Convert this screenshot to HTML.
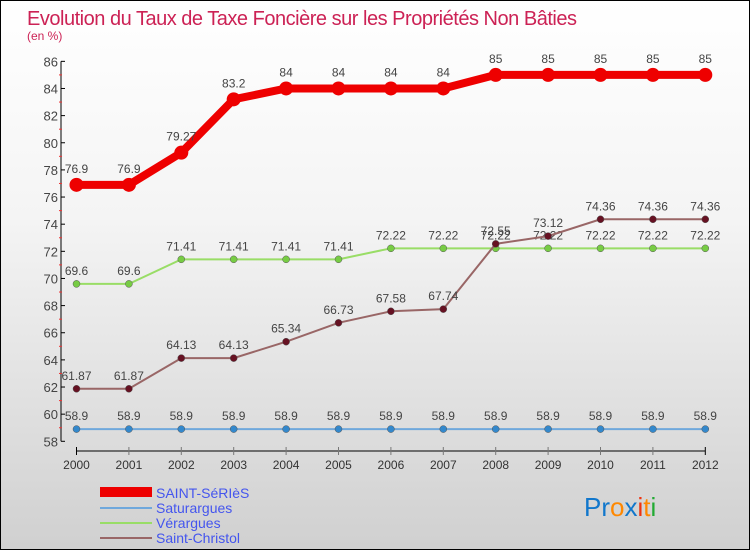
<!DOCTYPE html>
<html><head><meta charset="utf-8"><style>
body{margin:0}
#c{width:748px;height:548px;border:1px solid #000;background:linear-gradient(#fff 0%,#f4f4f4 40%,#d0d0d0 100%);position:relative;font-family:"Liberation Sans",sans-serif;overflow:hidden}
</style></head><body>
<div id="c">
<svg width="748" height="548" id="svg">
<text x="26" y="24" font-size="20" fill="#cc2255" textLength="550">Evolution du Taux de Taxe Foncière sur les Propriétés Non Bâties</text>
<text x="26" y="39" font-size="12" fill="#cc2255">(en %)</text>
<g id="axes"></g><g id="series"></g>
<g>
<rect x="99" y="486" width="52" height="10" fill="#ee0000"/><text x="155" y="497" font-size="14" fill="#4455ee">SAINT-SéRIèS</text>
<line x1="99" x2="151" y1="507" y2="507" stroke="#6fa8dc" stroke-width="2"/><text x="155" y="512" font-size="14" fill="#4455ee">Saturargues</text>
<line x1="99" x2="151" y1="522" y2="522" stroke="#99dd66" stroke-width="2"/><text x="155" y="527" font-size="14" fill="#4455ee">Vérargues</text>
<line x1="99" x2="151" y1="537" y2="537" stroke="#996666" stroke-width="2"/><text x="155" y="542" font-size="14" fill="#4455ee">Saint-Christol</text>
</g>
<g font-size="26" font-family="'Liberation Sans',sans-serif">
<text x="583" y="515"><tspan fill="#1177cc">Pr</tspan><tspan fill="#ff8800">o</tspan><tspan fill="#1177cc">x</tspan><tspan fill="#ee3311">i</tspan><tspan fill="#ff8800">t</tspan><tspan fill="#22aa33">i</tspan></text>
</g>
</svg></div>
<script>
const years=[2000,2001,2002,2003,2004,2005,2006,2007,2008,2009,2010,2011,2012];
const yTicks=[58,60,62,64,66,68,70,72,74,76,78,80,82,84,86];
const seriesSeries=[76.9,76.9,79.27,83.2,84,84,84,84,85,85,85,85,85];
const seriesSaturargues=[58.9,58.9,58.9,58.9,58.9,58.9,58.9,58.9,58.9,58.9,58.9,58.9,58.9];
const seriesVerargues=[69.6,69.6,71.41,71.41,71.41,71.41,72.22,72.22,72.22,72.22,72.22,72.22,72.22];
const seriesChristol=[61.87,61.87,64.13,64.13,65.34,66.73,67.58,67.74,72.55,73.12,74.36,74.36,74.36];
const NS='http://www.w3.org/2000/svg';
function X(i){return 75.5+i*52.4;}
function Y(v){return 440.3-(v-58)*13.57;}
function mk(t,a,p){const e=document.createElementNS(NS,t);for(const k in a)e.setAttribute(k,a[k]);p.appendChild(e);return e;}
const ax=document.getElementById('axes');
const yl=mk('line',{x1:60,x2:60,y1:Y(86),y2:Y(58),stroke:'#000'},ax);


yTicks.forEach(v=>{
 mk('line',{x1:60,x2:64,y1:Y(v),y2:Y(v),stroke:'#000'},ax);
 if(v<86)mk('line',{x1:58,x2:61,y1:Y(v+1),y2:Y(v+1),stroke:'#ee3333'},ax);
 const t=mk('text',{x:57,y:Y(v)+5,'text-anchor':'end','font-size':13,fill:'#444'},ax);t.textContent=v;
 
 
});
const xl=mk('line',{x1:X(0),x2:X(12),y1:450,y2:450,stroke:'#000'},ax);


years.forEach((y,i)=>{
 mk('line',{x1:X(i),x2:X(i),y1:446,y2:454,stroke:i==0||i==12?'#000':'#777'},ax);
 const t=mk('text',{x:X(i),y:468,'text-anchor':'middle','font-size':12,fill:'#333'},ax);t.textContent=y;
 
 
});
const sg=document.getElementById('series');
function draw(vals,col,fill,w,r,name,dy){
 const g=mk('g',{},sg);
 
 
 mk('polyline',{points:vals.map((v,i)=>X(i)+','+Y(v)).join(' '),fill:'none',stroke:col,'stroke-width':w},g);
 vals.forEach((v,i)=>{
  const c=mk('circle',{cx:X(i),cy:Y(v),r:r,fill:fill,stroke:w>3?'none':'#555','stroke-width':0.5},g);
  
  
  const t=mk('text',{x:X(i),y:Y(v)-dy,'text-anchor':'middle','font-size':12,fill:'#444'},g);t.textContent=v;
 });
}
draw(seriesSaturargues,'#6fa8dc','#3388cc',2,3.5,'series-saturargues',9);
draw(seriesVerargues,'#99dd66','#77cc44',2,3.5,'series-verargues',9);
draw(seriesChristol,'#996666','#661122',2,3.5,'series-saint-christol',9);
draw(seriesSeries,'#ee0000','#ee0000',8,7,'series-saint-series',12);
</script>
</body></html>
